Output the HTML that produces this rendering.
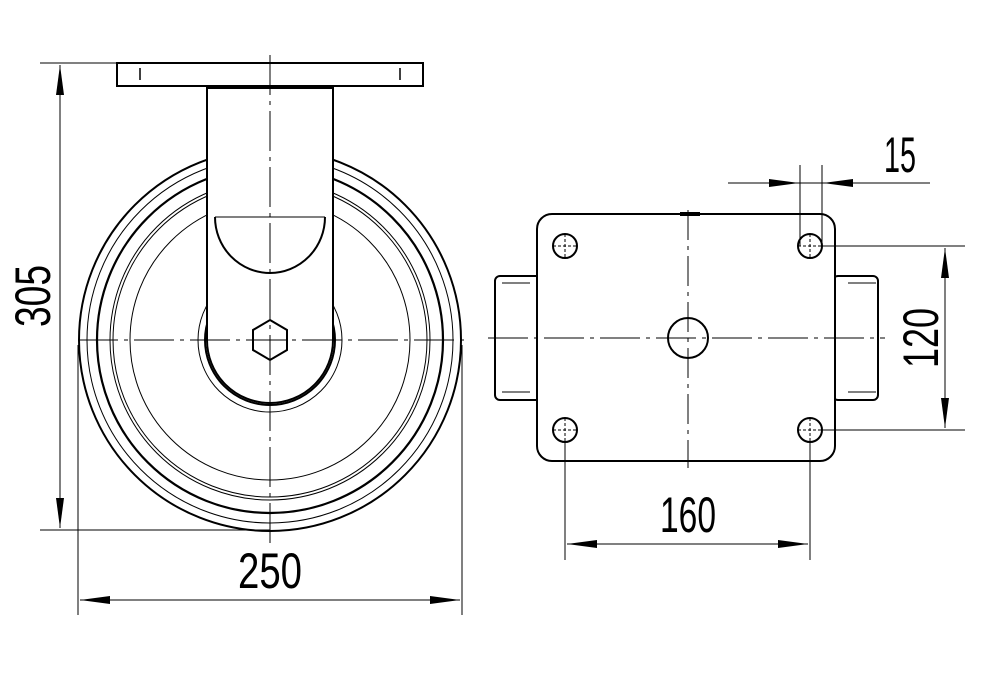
<!DOCTYPE html>
<html><head><style>body{margin:0;background:#fff}svg{display:block}</style></head><body>
<svg width="1000" height="697" viewBox="0 0 1000 697" xmlns="http://www.w3.org/2000/svg" font-family="Liberation Sans, sans-serif">
<defs>
<marker id="b" viewBox="0 0 30 10" refX="30" refY="5" markerWidth="30" markerHeight="10" markerUnits="userSpaceOnUse" orient="auto-start-reverse"><path d="M0,1 L30,5 L0,9 Z" fill="#000"/></marker>
</defs>
<g fill="none" stroke="#000">
<circle cx="270" cy="340" r="191" stroke-width="2"/>
<circle cx="270" cy="340" r="183" stroke-width="1"/>
<circle cx="270" cy="340" r="173" stroke-width="2.2"/>
<circle cx="270" cy="340" r="160" stroke-width="1"/>
<circle cx="270" cy="340" r="157" stroke-width="1"/>
<circle cx="270" cy="340" r="140" stroke-width="1"/>
<circle cx="270" cy="340" r="72" stroke-width="1"/>
<circle cx="270" cy="340" r="65" stroke-width="2"/>
<circle cx="270" cy="340" r="60" stroke-width="1"/>
</g>
<path d="M207,88 L207,340 A63,63 0 0 0 333,340 L333,88 Z" fill="#fff" stroke="#000" stroke-width="2"/>
<path d="M215,217 L325,217" stroke="#000" stroke-width="1"/>
<path d="M215,217 A55,56 0 0 0 325,217" fill="none" stroke="#000" stroke-width="2"/>
<rect x="117" y="63" width="306" height="23" fill="#fff" stroke="#000" stroke-width="2"/>
<path d="M140,68V80M400,68V80" stroke="#000" stroke-width="1.5"/>
<polygon points="270,320 287,330 287,350 270,360 253,350 253,330" fill="#fff" stroke="#000" stroke-width="2"/>
<g stroke="#000" stroke-width="1">
<path d="M270,55V548" stroke-dasharray="40,6,4,6"/>
<path d="M78,340H470" stroke-dasharray="40,6,4,6"/>
<path d="M40,63H117M40,530H270"/>
<path d="M60,65V528" marker-start="url(#b)" marker-end="url(#b)"/>
<path d="M78,345V615M462,345V615"/>
<path d="M80,600H460" marker-start="url(#b)" marker-end="url(#b)"/>
</g>
<text x="50" y="296" font-size="50" transform="rotate(-90 50 296)" text-anchor="middle" textLength="62" lengthAdjust="spacingAndGlyphs">305</text>
<text x="270" y="588" font-size="50" text-anchor="middle" textLength="64" lengthAdjust="spacingAndGlyphs">250</text>
<g fill="#fff" stroke="#000" stroke-width="2">
<rect x="495" y="276" width="48" height="124" rx="5"/>
<rect x="833" y="276" width="45" height="124" rx="5"/>
<rect x="537" y="214" width="298" height="247" rx="15"/>
<circle cx="688" cy="338" r="20"/>
<circle cx="565" cy="246" r="12"/>
<circle cx="810" cy="246" r="12"/>
<circle cx="565" cy="430" r="12"/>
<circle cx="810" cy="430" r="12"/>
</g>
<path d="M680,214H700" stroke="#000" stroke-width="4"/>
<g stroke="#000" stroke-width="1" fill="none">
<path d="M502,283H530M502,392H530M848,283H876M848,392H876"/>
<path d="M688,210V468" stroke-dasharray="30,6,4,6"/>
<path d="M488,338H885" stroke-dasharray="40,6,4,6"/>
<path d="M553,246h24M565,234v24M798,246h24M810,234v24M553,430h24M565,418v24M798,430h24M810,418v24" stroke-dasharray="3,2"/>
<path d="M800,165V246M822,165V246"/>
<path d="M728,183H930"/>
<path d="M765,183H799" marker-end="url(#b)"/>
<path d="M857,183H823" marker-end="url(#b)"/>
<path d="M822,246H965M822,430H965"/>
<path d="M945,248V428" marker-start="url(#b)" marker-end="url(#b)"/>
<path d="M565,442V560M810,442V560"/>
<path d="M567,544H808" marker-start="url(#b)" marker-end="url(#b)"/>
</g>
<text x="900" y="172" font-size="50" text-anchor="middle" textLength="32" lengthAdjust="spacingAndGlyphs">15</text>
<text x="938" y="338" font-size="50" transform="rotate(-90 938 338)" text-anchor="middle" textLength="60" lengthAdjust="spacingAndGlyphs">120</text>
<text x="688" y="532" font-size="50" text-anchor="middle" textLength="56" lengthAdjust="spacingAndGlyphs">160</text>
</svg>
</body></html>
